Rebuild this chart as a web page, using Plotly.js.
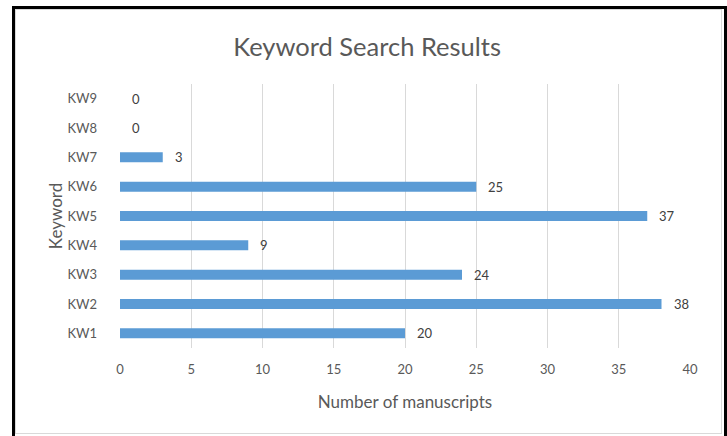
<!DOCTYPE html>
<html>
<head>
<meta charset="utf-8">
<script src="https://cdn.plot.ly/plotly-3.0.1.min.js"></script>
<style>
  html, body { margin: 0; padding: 0; background: #fff; }
  #wrap { position: relative; width: 727px; height: 436px; overflow: hidden; }
  #chart { position: absolute; left: 0; top: 0; width: 727px; height: 436px; }
  #outer { position: absolute; left: 12px; top: 6px; width: 715px; height: 440px;
           border-left: 3px solid #000; border-top: 3px solid #000; border-right: 3px solid #000; box-sizing: border-box; pointer-events: none; }
  #inner { position: absolute; left: 15px; top: 9px; width: 707px; height: 425px;
           border: 1px solid #d9d9d9; box-sizing: border-box; pointer-events: none; }
</style>
</head>
<body>
<div id="wrap">
  <div id="chart"></div>
  <div id="inner"></div>
  <div id="outer"></div>
</div>
<script>
const categories = ["KW1", "KW2", "KW3", "KW4", "KW5", "KW6", "KW7", "KW8", "KW9"];
const values = [20, 38, 24, 9, 37, 25, 3, 0, 0];
const xTicks = [0, 5, 10, 15, 20, 25, 30, 35, 40];

const textColor = "#595959";
const fontFamily = "Lato, 'Open Sans', sans-serif";

const trace = {
  type: "bar",
  orientation: "h",
  y: categories,
  x: values,
  marker: { color: "#5B9BD5" },
  hoverinfo: "x+y"
};

const annotations = categories.map((c, i) => ({
  x: values[i], y: c, xref: "x", yref: "y",
  text: String(values[i]), showarrow: false,
  xanchor: "left", xshift: 10,
  font: { family: fontFamily, size: 13, color: "#404040" }
}));

const layout = {
  width: 727, height: 436,
  margin: { l: 120, r: 37, t: 84, b: 88 },
  paper_bgcolor: "rgba(0,0,0,0)",
  plot_bgcolor: "rgba(0,0,0,0)",
  bargap: 0.66,
  showlegend: false,
  font: { family: fontFamily, color: textColor, size: 13 },
  title: {
    text: "Keyword Search Results",
    font: { family: fontFamily, size: 25.5, color: textColor },
    x: 0.505, xref: "container", y: 0.913, yref: "container", xanchor: "center"
  },
  xaxis: {
    range: [0, 40],
    tickvals: xTicks,
    ticktext: xTicks.map(String),
    showgrid: true, gridcolor: "#d9d9d9", gridwidth: 1,
    zeroline: false, showline: false, ticks: "",
    ticklabelstandoff: 12,
    tickfont: { family: fontFamily, size: 13, color: textColor },
    title: { text: "Number of manuscripts", font: { family: fontFamily, size: 17, color: textColor }, standoff: 20 },
    fixedrange: true
  },
  yaxis: {
    categoryorder: "array", categoryarray: categories,
    showgrid: false, zeroline: false, showline: false, ticks: "",
    ticklabelstandoff: 22,
    tickfont: { family: fontFamily, size: 13, color: textColor },
    title: { text: "Keyword", font: { family: fontFamily, size: 17, color: textColor }, standoff: 0 },
    fixedrange: true
  },
  annotations: annotations
};

Plotly.newPlot("chart", [trace], layout, { displayModeBar: false, staticPlot: true });
</script>
</body>
</html>
